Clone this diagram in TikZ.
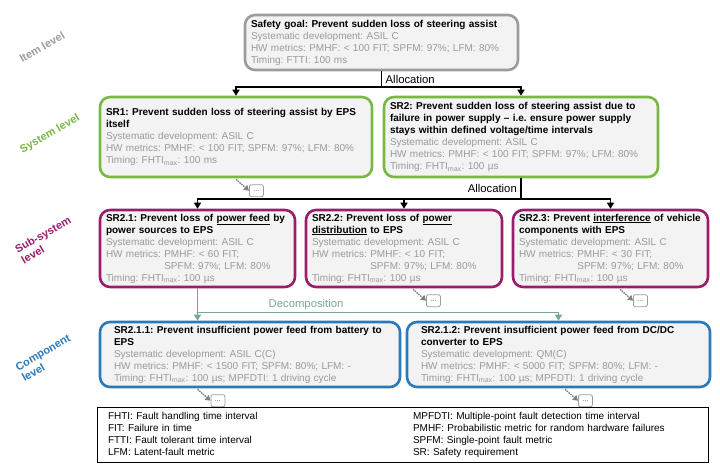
\documentclass[tikz,border=0pt]{standalone}
\usepackage{fontspec}
\setmainfont{Liberation Sans}
\usepackage{tikz}
\usetikzlibrary{arrows.meta, positioning, calc}
\usepackage{xcolor}
\frenchspacing
\hyphenpenalty=10000
\definecolor{grigioBordo}{HTML}{9C9C9C}
\definecolor{grigioTesto}{HTML}{9A9A9A}
\definecolor{grigioFondo}{HTML}{F3F3F3}
\definecolor{verde}{HTML}{79B843}
\definecolor{viola}{HTML}{9C1C6C}
\definecolor{blu}{HTML}{2B79B8}
\definecolor{verdeAcqua}{HTML}{76A892}
\newcommand{\dett}[1]{\textcolor{grigioTesto}{#1}}
\newcommand{\fhti}{FHTI\textsubscript{max}}
\newcommand{\rientro}{\phantom{HW metrics: }}

\begin{document}
\begin{tikzpicture}[x=1pt, y=-1pt,
    req/.style={rounded corners=10pt, line width=2.6pt, fill=grigioFondo, align=left, inner xsep=6pt, inner ysep=2pt, font=\fontsize{10}{12}\selectfont},
    goal/.style={req, draw=grigioBordo},
    sis/.style={req, draw=verde},
    sotto/.style={req, draw=viola},
    comp/.style={req, draw=blu, inner xsep=14pt},
    livello/.style={rotate=30, align=left, font=\fontsize{11}{12.5}\selectfont\bfseries},
    etichetta/.style={inner sep=1pt, font=\fontsize{11.3}{12}\selectfont},
    allocazione/.style={line width=1.6pt, -{Triangle[length=6pt, width=7pt]}},
    scomposizione/.style={line width=1.6pt, draw=verdeAcqua, -{Triangle[length=6pt, width=7pt]}},
    puntini/.style={line width=1.4pt, draw=gray, densely dotted, -{Triangle[length=5pt, width=6pt]}, fill=gray},
    altro/.style={draw=grigioBordo, rounded corners=2pt, fill=white, line width=0.8pt, minimum width=14pt, minimum height=12pt, inner sep=0pt, font=\fontsize{7}{7}\selectfont, text=black!70},
    legenda/.style={draw, line width=0.9pt, align=left, inner xsep=11pt, font=\fontsize{10}{12}\selectfont}]
    % parametri
    \pgfmathsetmacro{\hsis}{80}
    \pgfmathsetmacro{\hsotto}{77}
    \pgfmathsetmacro{\hcomp}{65}
    \useasboundingbox (0,0) rectangle (720,470);
    % livelli
    \node[livello, text=grigioBordo] (item) at (42,47) {Item level};
    \node[livello, text=verde] (sistema) at (50,134) {System level};
    \node[livello, text=viola] (sottosistema) at (46,240) {Sub-system\\level};
    \node[livello, text=blu] (componente) at (46,358) {Component\\level};
    % Safety goal
    \node[goal, text width=261pt, minimum height=55pt] (sg) at (381.5,42.5) {\textbf{Safety goal: Prevent sudden loss of steering assist}\\
        \dett{Systematic development: ASIL C}\\
        \dett{HW metrics: PMHF: < 100 FIT; SPFM: 97\%; LFM: 80\%}\\
        \dett{Timing: FTTI: 100 ms}};
    % livello di sistema
    \node[sis, text width=260pt, minimum height=\hsis pt] (sr1) at (236,137) {\textbf{SR1: Prevent sudden loss of steering assist by EPS}\\
        \textbf{itself}\\
        \dett{Systematic development: ASIL C}\\
        \dett{HW metrics: PMHF: < 100 FIT; SPFM: 97\%; LFM: 80\%}\\
        \dett{Timing: \fhti: 100 ms}};
    \node[sis, text width=262pt, minimum height=\hsis pt] (sr2) at (521,137) {\textbf{SR2: Prevent sudden loss of steering assist due to}\\
        \textbf{failure in power supply -- i.e. ensure power supply}\\
        \textbf{stays within defined voltage/time intervals}\\
        \dett{Systematic development: ASIL C}\\
        \dett{HW metrics: PMHF: < 100 FIT; SPFM: 97\%; LFM: 80\%}\\
        \dett{Timing: \fhti: 100 µs}};
    % livello di sottosistema
    \node[sotto, text width=183pt, minimum height=\hsotto pt] (sr21) at (197.5,248.5) {\textbf{SR2.1: Prevent loss of \underline{power feed} by}\\
        \textbf{power sources to EPS}\\
        \dett{Systematic development: ASIL C}\\
        \dett{HW metrics: PMHF: < 60 FIT;}\\
        \dett{\rientro SPFM: 97\%; LFM: 80\%}\\
        \dett{Timing: \fhti: 100 µs}};
    \node[sotto, text width=184pt, minimum height=\hsotto pt] (sr22) at (404,248.5) {\textbf{SR2.2: Prevent loss of \underline{power}}\\
        \textbf{\underline{distribution} to EPS}\\
        \dett{Systematic development: ASIL C}\\
        \dett{HW metrics: PMHF: < 10 FIT;}\\
        \dett{\rientro SPFM: 97\%; LFM: 80\%}\\
        \dett{Timing: \fhti: 100 µs}};
    \node[sotto, text width=183pt, minimum height=\hsotto pt] (sr23) at (610.5,248.5) {\textbf{SR2.3: Prevent \underline{interference} of vehicle}\\
        \textbf{components with EPS}\\
        \dett{Systematic development: ASIL C}\\
        \dett{HW metrics: PMHF: < 30 FIT;}\\
        \dett{\rientro SPFM: 97\%; LFM: 80\%}\\
        \dett{Timing: \fhti: 100 µs}};
    % livello di componente
    \node[comp, text width=272pt, minimum height=\hcomp pt] (sr211) at (250,354.5) {\textbf{SR2.1.1: Prevent insufficient power feed from battery to}\\
        \textbf{EPS}\\
        \dett{Systematic development: ASIL C(C)}\\
        \dett{HW metrics: PMHF: < 1500 FIT; SPFM: 80\%; LFM: -}\\
        \dett{Timing: \fhti: 100 µs; MPFDTI: 1 driving cycle}};
    \node[comp, text width=275pt, minimum height=\hcomp pt] (sr212) at (558.5,354.5) {\textbf{SR2.1.2: Prevent insufficient power feed from DC/DC}\\
        \textbf{converter to EPS}\\
        \dett{Systematic development: QM(C)}\\
        \dett{HW metrics: PMHF: < 5000 FIT; SPFM: 80\%; LFM: -}\\
        \dett{Timing: \fhti: 100 µs; MPFDTI: 1 driving cycle}};
    % Allocazione SG -> SR
    \coordinate (bus1) at ($(sg.south)+(0,16)$);
    \draw[allocazione] (sg.south) -- (bus1) -| (sr1.north);
    \draw[allocazione] (bus1) -| (sr2.north);
    \node[etichetta, right=3pt] (all1) at ($(sg.south)!.5!(bus1)$) {Allocation};
    % Allocazione SR2 -> SR2.x
    \coordinate (bus2) at ($(sr2.south)+(0,21)$);
    \draw[allocazione] (sr2.south) -- (bus2) -| (sr21.north);
    \draw[allocazione] (bus2) -| (sr22.north);
    \draw[allocazione] (bus2) -| (sr23.north);
    \node[etichetta, left=3pt] (all2) at ($(sr2.south)!.5!(bus2)$) {Allocation};
    % Scomposizione SR2.1
    \coordinate (bus3) at ($(sr21.south)+(0,24)$);
    \draw[scomposizione] (sr21.south) -- (sr21.south |- sr211.north);
    \draw[scomposizione] (bus3) -| (sr212.north);
    \node[etichetta, text=verdeAcqua, above right=1pt and 70pt of bus3] (scomp) {Decomposition};
    % rimandi "..."
    \coordinate (p1) at ($(sr1.south)+(0,1)$);
    \coordinate (p22) at ($(sr22.south)+(9,1)$);
    \coordinate (p23) at ($(sr23.south)+(9.5,1)$);
    \coordinate (p211) at ($(sr21.south |- sr211.south)+(0,1)$);
    \coordinate (p212) at ($(sr212.south)+(6.5,1)$);
    \foreach \p in {1,22,23,211,212}{
        \node[altro, below right=5pt and 13pt of p\p] (piu\p) {...};
        \draw[puntini] (p\p) -- (piu\p.west);
    }
    % legenda
    \node[legenda, text width=589pt, minimum height=54pt] (leg) at (402.5,435) {%
        \begin{tabular}{@{}p{305pt}@{}l@{}}
        FHTI: Fault handling time interval & MPFDTI: Multiple-point fault detection time interval\\
        FIT: Failure in time & PMHF: Probabilistic metric for random hardware failures\\
        FTTI: Fault tolerant time interval & SPFM: Single-point fault metric\\
        LFM: Latent-fault metric & SR: Safety requirement
        \end{tabular}};
\end{tikzpicture}
\end{document}
